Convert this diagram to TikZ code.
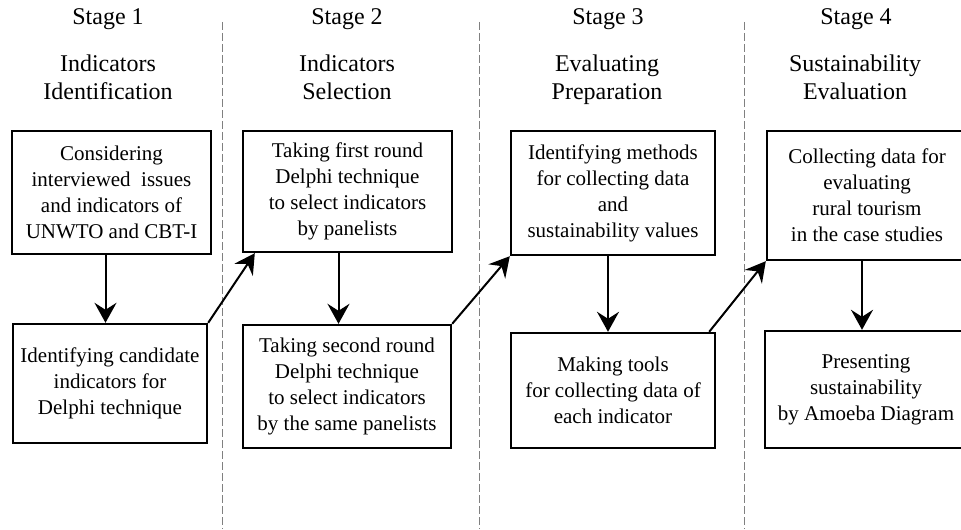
\documentclass[tikz,border=0pt]{standalone}
\usepackage{fontspec}
\setmainfont{Liberation Serif}
\usetikzlibrary{arrows.meta}
\begin{document}
\begin{tikzpicture}[x=0.5pt, y=-0.5pt,
	>={Stealth[length=10pt, width=11pt, inset=3.5pt]},
	every path/.style={line width=1pt},
	box/.style={rectangle, draw=black, line width=1.2pt, align=center,
				inner sep=0, font=\fontsize{10.5}{13}\selectfont},
	stage/.style={align=center, font=\fontsize{12}{14}\selectfont},
	sep/.style={gray, line width=0.5pt, dash pattern=on 4pt off 1.5pt}]
	\useasboundingbox (0,0) rectangle (961,529);
	\draw[sep] (222,22) -- (222,529);
	\draw[sep] (479,22) -- (479,529);
	\draw[sep] (744,22) -- (744,529);

	\node[stage] (st1) at (108,19) {Stage 1};
	\node[stage] (ti1) at (108,77) {Indicators\\Identification};
	\node[stage] (st2) at (347,19) {Stage 2};
	\node[stage] (ti2) at (347,77) {Indicators\\Selection};
	\node[stage] (st3) at (608,19) {Stage 3};
	\node[stage] (ti3) at (607,80) {Evaluating\\Preparation};
	\node[stage] (st4) at (856,19) {Stage 4};
	\node[stage] (ti4) at (855,77) {Sustainability\\Evaluation};

	\node[box, minimum width=99.5pt, minimum height=61.5pt] (b1a) at (111.5,192.5)
		{Considering\\interviewed\ \ issues\\and indicators of\\UNWTO and CBT-I};
	\node[box, minimum width=97pt, minimum height=59.5pt] (b1b) at (110,383.5)
		{Identifying candidate\\indicators for\\Delphi technique};
	\node[box, minimum width=104.5pt, minimum height=60.5pt] (b2a) at (347.5,191.5)
		{Taking first round\\Delphi technique\\to select indicators\\by panelists};
	\node[box, minimum width=104pt, minimum height=61.5pt] (b2b) at (347,386.5)
		{Taking second round\\Delphi technique\\to select indicators\\by the same panelists};
	\node[box, minimum width=102pt, minimum height=62pt] (b3a) at (613,193)
		{Identifying methods\\for collecting data\\and\\sustainability values};
	\node[box, minimum width=102pt, minimum height=57.5pt] (b3b) at (613,390.5)
		{Making tools\\for collecting data of\\each indicator};
	\node[box, minimum width=100pt, minimum height=64.5pt] (b4a) at (867,195.5)
		{Collecting data for\\evaluating\\rural tourism\\in the case studies};
	\node[box, minimum width=101pt, minimum height=58.5pt] (b4b) at (866,389.5)
		{Presenting\\sustainability\\by Amoeba Diagram};

	\draw[->] ([xshift=-3pt]b1a.south) -- ([xshift=-3pt]b1a.south |- b1b.north);
	\draw[->] ([xshift=-4.5pt]b2a.south) -- ([xshift=-4.5pt]b2a.south |- b2b.north);
	\draw[->] ([xshift=-2.5pt]b3a.south) -- ([xshift=-2.5pt]b3a.south |- b3b.north);
	\draw[->] ([xshift=-2.5pt]b4a.south) -- ([xshift=-2.5pt]b4a.south |- b4b.north);

	\draw[->] (b1b.north east) -- ([xshift=6.5pt]b2a.south west);
	\draw[->] (b2b.north east) -- (b3a.south west);
	\draw[->] ([xshift=-3.5pt]b3b.north east) -- (b4a.south west);
\end{tikzpicture}
\end{document}
